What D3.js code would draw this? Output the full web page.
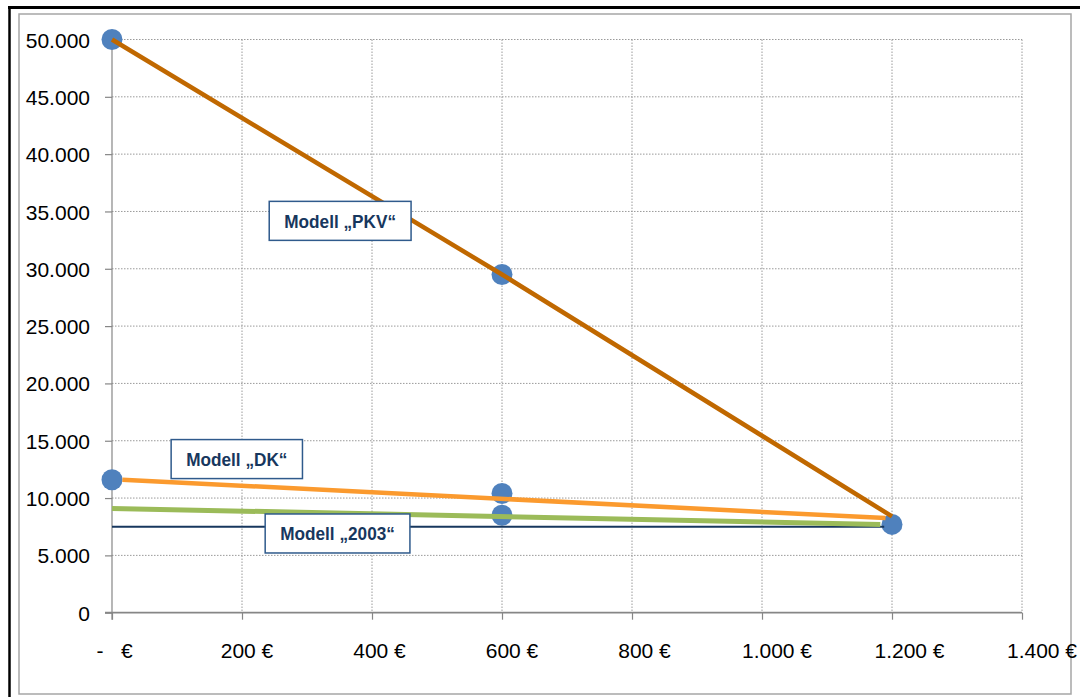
<!DOCTYPE html>
<html>
<head>
<meta charset="utf-8">
<script src="https://cdn.jsdelivr.net/npm/d3@7"></script>
<style>
  html, body { margin: 0; padding: 0; background: #fff; }
  svg { display: block; font-family: "Liberation Sans", Arial, sans-serif; }
</style>
</head>
<body>
<svg id="chart" width="1080" height="697"></svg>
<script>
// Axis ticks
const xTicks = [0, 200, 400, 600, 800, 1000, 1200, 1400];
const yTicks = [0, 5000, 10000, 15000, 20000, 25000, 30000, 35000, 40000, 45000, 50000];

// Data points (scatter markers)
const pointX = [0, 600, 0, 600, 600, 1200];
const pointY = [50000, 29500, 11600, 10400, 8500, 7700];

// Model lines
const pkvX = [0, 600, 1200];
const pkvY = [50000, 29500, 8400];
const dkX = [16, 1190];
const dkY = [11600, 8250];
const m2003X = [0, 1182];
const m2003Y = [9100, 7700];
const baseX = [0, 1188];
const baseY = [7500, 7500];

// Annotation labels (anchored in data coordinates)
const labelText = ["Modell „PKV“", "Modell „DK“", "Modell „2003“"];
const labelX = [351, 192, 347];
const labelY = [34180, 13400, 6910];

const svg = d3.select("#chart");
const W = 1080, H = 697;

const de = d3.formatLocale({ decimal: ",", thousands: ".", grouping: [3], currency: ["", " €"] });
const fmtNum = de.format(",d");

const x = d3.scaleLinear().domain([0, 1400]).range([112, 1022]);
const y = d3.scaleLinear().domain([0, 50000]).range([612.7, 39.5]);
// tick labels run on a slightly wider pitch than the tick marks
const xLab = d3.scaleLinear().domain([0, 1400]).range([114.5, 1042]);

// frame
svg.append("rect").attr("x", 0).attr("y", 0).attr("width", W).attr("height", H).attr("fill", "#fff");
svg.append("line").attr("x1", 8).attr("x2", W).attr("y1", 7.5).attr("y2", 7.5)
  .attr("stroke", "#000").attr("stroke-width", 3);
svg.append("line").attr("x1", 9.5).attr("x2", 9.5).attr("y1", 6).attr("y2", H)
  .attr("stroke", "#000").attr("stroke-width", 2.5);
svg.append("rect").attr("x", 19).attr("y", 14).attr("width", 1052).attr("height", 680)
  .attr("fill", "none").attr("stroke", "#a6a6a6").attr("stroke-width", 1.5);

// gridlines
const grid = svg.append("g");
grid.selectAll("line.h").data(yTicks.filter(d => d > 0)).join("line")
  .attr("x1", x(0)).attr("x2", x(1400)).attr("y1", d => y(d)).attr("y2", d => y(d))
  .attr("stroke", "#9a9a9a").attr("stroke-width", 1).attr("stroke-dasharray", "1.5,1.5");
grid.selectAll("line.v").data(xTicks.filter(d => d > 0)).join("line")
  .attr("x1", d => x(d)).attr("x2", d => x(d)).attr("y1", y(50000)).attr("y2", y(0))
  .attr("stroke", "#9a9a9a").attr("stroke-width", 1).attr("stroke-dasharray", "1.5,1.5");

// y axis
const yAxis = svg.append("g").attr("transform", `translate(${x(0)},0)`)
  .call(d3.axisLeft(y).tickValues(yTicks).tickSize(7).tickPadding(15).tickFormat(d => fmtNum(d)));
yAxis.select(".domain").attr("stroke", "#868686").attr("stroke-width", 1.2)
  .attr("d", `M0,${y(50000)}V${y(0) + 7}`);
yAxis.selectAll(".tick line").attr("stroke", "#868686").attr("stroke-width", 1.2);
yAxis.selectAll(".tick text").attr("font-size", 21).attr("fill", "#000")
  .attr("font-family", "'Liberation Sans', Arial, sans-serif").attr("dy", "0.36em");

// x axis
const xAxis = svg.append("g").attr("transform", `translate(0,${y(0)})`)
  .call(d3.axisBottom(x).tickValues(xTicks).tickSize(7).tickFormat(""));
xAxis.select(".domain").attr("stroke", "#868686").attr("stroke-width", 1.8)
  .attr("d", `M${x(0) - 7},0H${x(1400)}`);
xAxis.selectAll(".tick line").attr("stroke", "#868686").attr("stroke-width", 1.2);

svg.append("g").selectAll("text").data(xTicks).join("text")
  .attr("x", d => xLab(d)).attr("y", 658)
  .attr("text-anchor", "middle").attr("font-size", 21).attr("fill", "#000")
  .style("white-space", "pre")
  .text(d => d === 0 ? "-   €" : fmtNum(d) + " €");

// markers
svg.append("g").selectAll("circle").data(pointX.map((v, i) => [v, pointY[i]])).join("circle")
  .attr("cx", d => x(d[0])).attr("cy", d => y(d[1])).attr("r", 10.5)
  .attr("fill", "#4f81bd");

// model lines
const line = d3.line().x(d => x(d[0])).y(d => y(d[1]));
const zip = (a, b) => a.map((v, i) => [v, b[i]]);
const series = [
  { xs: baseX, ys: baseY, color: "#17375e", w: 2 },
  { xs: m2003X, ys: m2003Y, color: "#9bbb59", w: 5 },
  { xs: dkX, ys: dkY, color: "#fb9a2e", w: 4.5 },
  { xs: pkvX, ys: pkvY, color: "#c06800", w: 4.5 }
];
svg.append("g").selectAll("path").data(series).join("path")
  .attr("d", s => line(zip(s.xs, s.ys)))
  .attr("fill", "none").attr("stroke", s => s.color).attr("stroke-width", s => s.w)
  .attr("stroke-linecap", "butt");

// annotation boxes (condensed bold caption inside a white box)
const labels = svg.append("g").selectAll("g").data(labelText.map((t, i) => ({ t, x: labelX[i], y: labelY[i] })))
  .join("g").attr("transform", d => `translate(${x(d.x)},${y(d.y)})`);
labels.append("rect");
labels.append("text")
  .attr("text-anchor", "middle").attr("dy", "0.36em")
  .attr("font-size", 18.5).attr("font-weight", "bold").attr("fill", "#17375e")
  .text(d => d.t);
labels.each(function () {
  const g = d3.select(this);
  const t = g.select("text");
  const natural = t.node().getComputedTextLength();
  const tw = natural * 0.93;
  t.attr("textLength", tw).attr("lengthAdjust", "spacingAndGlyphs");
  const w = tw + 30;
  g.select("rect").attr("x", -w / 2).attr("y", -19.5).attr("width", w).attr("height", 39)
    .attr("fill", "#fff").attr("stroke", "#2f5a8c").attr("stroke-width", 1.5);
});
</script>
</body>
</html>
